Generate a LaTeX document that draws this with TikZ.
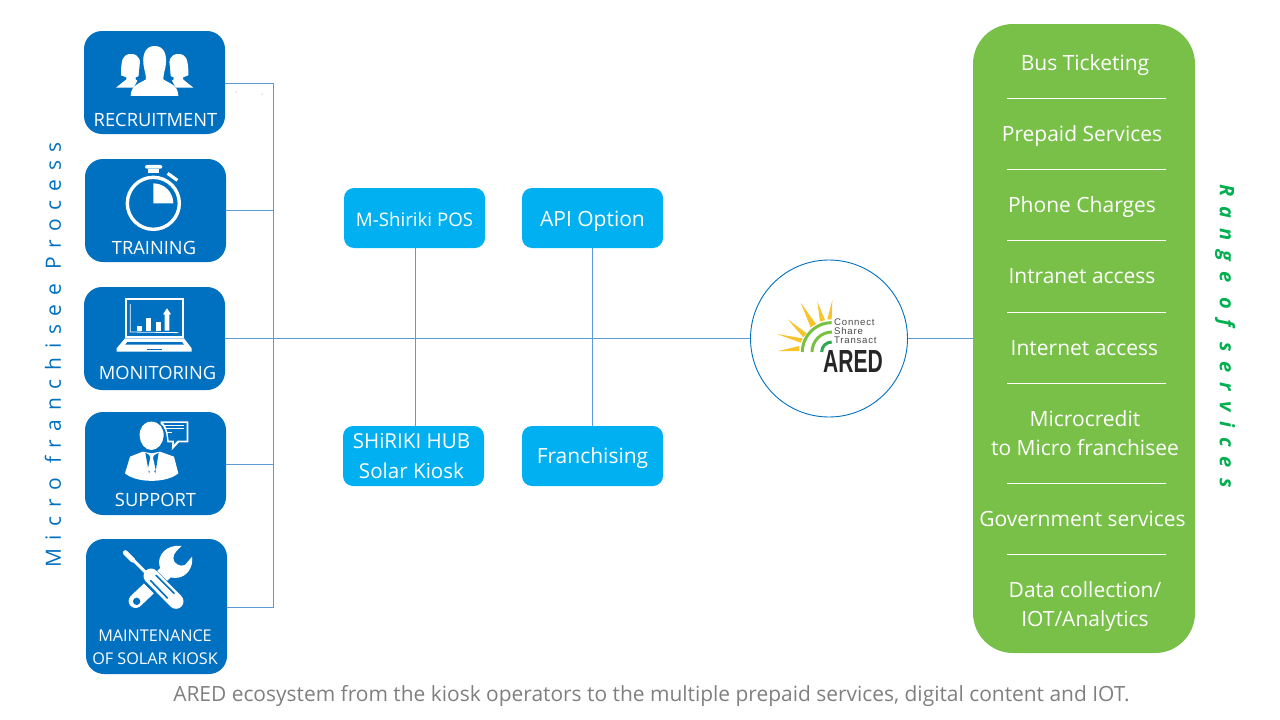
\documentclass[tikz,border=0pt]{standalone}
\usepackage{fontspec}
\setmainfont{Open Sans}
\newfontfamily\ospaced[LetterSpace=41.5]{Open Sans}
\newfontfamily\ospacedb[LetterSpace=50]{Open Sans}
\newfontfamily\logofont{Liberation Sans}
\newfontfamily\logospaced[LetterSpace=8]{Liberation Sans}
\definecolor{boxblue}{HTML}{0070C0}
\definecolor{cyanbox}{HTML}{00B0F0}
\definecolor{linkblue}{HTML}{5B9BD5}
\definecolor{panelgreen}{HTML}{78C048}
\definecolor{rangegreen}{HTML}{00B050}
\definecolor{captiongrey}{HTML}{7F7F7F}
\definecolor{sunyellow}{HTML}{F7C42B}
\definecolor{arcgreen}{HTML}{7AC143}
\definecolor{arcdark}{HTML}{2FA84F}
\definecolor{logogrey}{HTML}{4A4A4A}
\tikzset{
  procbox/.style={draw=none,fill=boxblue,rounded corners=18,minimum width=141,minimum height=103,inner sep=0},
  offerbox/.style={draw=none,fill=cyanbox,rounded corners=10,minimum width=141,minimum height=60,inner sep=0,text=white,font=\fontsize{21}{30}\selectfont,align=center,text height=17,text depth=2},
  proclabel/.style={text=white,font=\fontsize{18.3}{23}\selectfont,align=center,inner sep=0,text height=14,text depth=1},
  link/.style={draw=linkblue,line width=0.9pt},
  sep/.style={draw=white,line width=0.9pt},
  service/.style={text=white,font=\fontsize{21}{29}\selectfont,align=center,inner sep=0,text height=17,text depth=2},
  icon/.style={fill=white,draw=none},
  zoomed/.style={x=0.33333pt,y=-0.33333pt},
}
\begin{document}
\begin{tikzpicture}[x=1pt,y=-1pt]
\useasboundingbox (0,0) rectangle (1280,720);
% process boxes
\node[procbox] (rec) at (154.5,82.5) {};
\node[procbox] (tra) at (155.5,210.5) {};
\node[procbox] (mon) at (154.5,338.5) {};
\node[procbox] (sup) at (155.5,463.5) {};
\node[procbox,minimum height=135] (mai) at (156.5,606.5) {};
\node[proclabel] (lrec) at (155.5,119.5) {RECRUITMENT};
\node[proclabel] (ltra) at (154,247.5) {TRAINING};
\node[proclabel] (lmon) at (157.5,372.5) {MONITORING};
\node[proclabel] (lsup) at (155.5,499.5) {SUPPORT};
\node[proclabel,font=\fontsize{16.2}{23}\selectfont,text height=37] (lmai) at (155,646.5) {MAINTENANCE\\OF SOLAR KIOSK};
% centre boxes
\node[offerbox,font=\fontsize{18.7}{24}\selectfont,text height=19] (msh) at (414.5,218) {M-Shiriki POS};
\node[offerbox,text height=19] (api) at (592.5,218) {API Option};
\node[offerbox,font=\fontsize{20.6}{30}\selectfont,text height=47] (hub) at (413.5,456) {\hspace*{-4pt}SHiRIKI HUB\\\hspace*{-4pt}Solar Kiosk};
\node[offerbox] (fra) at (592.5,456) {Franchising};
% ARED circle and panel
\node[circle,draw=boxblue,line width=0.9pt,fill=white,minimum size=157,inner sep=0] (ared) at (829,338.5) {};
\node[draw=none,fill=panelgreen,rounded corners=40,minimum width=222,minimum height=629,inner sep=0] (panel) at (1084,338.5) {};
% connectors
\coordinate (trunk) at (273,338.5);
\draw[link] ([yshift=-.5pt]rec.east) -- ([yshift=-.5pt]rec.east -| trunk) -- ([yshift=-.5pt]mai.east -| trunk) -- ([yshift=-.5pt]mai.east);
\draw[link] (tra.east) -- (tra.east -| trunk);
\draw[link] ([yshift=-.5pt]sup.east) -- ([yshift=-.5pt]sup.east -| trunk);
\draw[link] (mon.east) -- (ared.west);
\draw[link] (ared.east) -- (panel.west);
\coordinate (mshx) at (415,248);
\draw[link] (mshx) -- (mshx |- hub.north);
\draw[link] (api.south) -- (fra.north);
\fill[gray] (236,92) circle (0.5);
\fill[gray] (262,94) circle (0.5);
% services
\node[service] (s1) at (1085,62.5) {Bus Ticketing};
\node[service] (s2) at (1082,133.5) {Prepaid Services};
\node[service] (s3) at (1082,204.5) {Phone Charges};
\node[service] (s4) at (1082,275.5) {Intranet access};
\node[service] (s5) at (1084.5,347.5) {Internet access};
\node[service,text height=46] (s6) at (1085,433) {Microcredit\\to Micro franchisee};
\node[service] (s7) at (1082.5,518.5) {Government services};
\node[service,text height=46] (s8) at (1085,604) {Data collection/\\IOT/Analytics};
\foreach \yy in {98,169,240,312,383,483,554}{\draw[sep] (1007,\yy) -- (1166,\yy);}
% side titles and caption
\node[rotate=90,text=boxblue,inner sep=0,font=\ospaced\fontsize{21}{24}\selectfont] (left) at (53,355) {Micro franchisee Process};
\node[rotate=-90,text=rangegreen,inner sep=0,font=\ospacedb\fontsize{20}{22}\selectfont\bfseries\itshape] (right) at (1225,336) {Range of services};
\node[text=captiongrey,inner sep=0,font=\fontsize{20.93}{24}\selectfont] (cap) at (651.5,696) {ARED ecosystem from the kiosk operators to the multiple prepaid services, digital content and IOT.};
% recruitment icon
\begin{scope}[shift={(70,20)},zoomed]
  \foreach \cx in {183,325}{
    \fill[icon] (\cx-30,150) .. controls (\cx-28,120) and (\cx-25,102) .. (\cx,102) .. controls (\cx+25,102) and (\cx+28,120) .. (\cx+30,150) -- (\cx+30,166) -- (\cx+14,172) -- (\cx+14,178) -- (\cx+45,203) -- (\cx-45,203) -- (\cx-14,178) -- (\cx-14,172) -- (\cx-30,166) -- cycle;
  }
  \fill[boxblue] (175,232) -- (205,178) -- (215,70) -- (293,70) -- (303,178) -- (333,232) -- cycle;
  \fill[icon] (254,78) .. controls (225,78) and (218,105) .. (220,130) .. controls (222,150) and (228,160) .. (228,178) .. controls (210,190) and (182,195) .. (182,228) -- (325,228) .. controls (325,195) and (298,190) .. (280,178) .. controls (280,160) and (286,150) .. (288,130) .. controls (290,105) and (283,78) .. (254,78) -- cycle;
\end{scope}
% stopwatch icon
\begin{scope}[shift={(70,20)},zoomed]
  \draw[white,line width=3.4pt] (250,550) circle (78);
  \fill[icon] (250,490) -- (250,550) -- (310,550) arc (0:-90:60) -- cycle;
  \fill[icon,rounded corners=2] (225,435) rectangle (277,446);
  \fill[icon] (235,446) rectangle (267,458);
  \draw[white,line width=3.2pt] (293,460) -- (322,481);
\end{scope}
% laptop icon
\begin{scope}[shift={(70,280)},zoomed]
  \draw[white,line width=1.8pt] (169,58) rectangle (338,170);
  \draw[white,line width=0.8pt] (181,72) -- (181,156) -- (326,158);
  \fill[icon] (202,137) rectangle (216,152);
  \fill[icon] (229,115) rectangle (244,152);
  \fill[icon] (257,126) rectangle (272,152);
  \fill[icon] (284,152) -- (284,103) -- (279,103) -- (291,85) -- (303,103) -- (298,103) -- (298,152) -- cycle;
  \fill[icon] (165,175) -- (342,175) -- (365,205) -- (365,215) -- (140,215) -- (140,205) -- cycle;
  \fill[boxblue] (172,186) -- (336,186) -- (342,194) -- (166,194) -- cycle;
  \fill[boxblue] (232,206) rectangle (275,210);
\end{scope}
% support icon
\begin{scope}[shift={(70,280)},zoomed]
  \fill[icon] (244,425) .. controls (220,425) and (208,445) .. (209,468) .. controls (210,490) and (225,510) .. (244,510) .. controls (263,510) and (280,490) .. (281,468) .. controls (282,445) and (268,425) .. (244,425) -- cycle;
  \fill[icon] (218,515) -- (180,530) -- (165,580) .. controls (200,610) and (290,610) .. (325,580) -- (312,530) -- (270,515) -- (245,520) -- cycle;
  \fill[boxblue] (226,518) -- (237,580) -- (246,560) -- (256,580) -- (266,518) -- (246,530) -- cycle;
  \fill[icon] (236,520) -- (254,520) -- (249,533) -- (257,570) -- (245,578) -- (233,570) -- (241,533) -- cycle;
  \fill[icon] (272,424) -- (355,424) -- (355,487) -- (327,487) -- (305,511) -- (307,487) -- (292,487) .. controls (290,460) and (285,440) .. (272,431) -- cycle;
  \fill[boxblue] (280,429) -- (350,429) -- (350,482) -- (322,482) -- (311,494) -- (313,482) -- (296,482) .. controls (294,460) and (290,440) .. (280,429) -- cycle;
  \draw[white,line width=0.9pt] (283,436) -- (343,436);
  \draw[white,line width=0.9pt] (286,446) -- (343,446);
  \draw[white,line width=0.9pt] (290,458) -- (306,458);
\end{scope}
% tools icon
\begin{scope}[shift={(70,530)},zoomed]
  % wrench
  \draw[white,line width=14pt,line cap=round] (295,120) -- (197,213);
  \fill[icon] (335,48) .. controls (290,42) and (262,75) .. (268,105) .. controls (275,140) and (310,150) .. (335,140) .. controls (358,130) and (370,105) .. (366,80) -- (345,105) .. controls (330,112) and (310,100) .. (310,85) .. controls (310,70) and (322,60) .. cycle;
  \fill[boxblue] (200,214) circle (11);
  % screwdriver
  \draw[boxblue,line width=18pt] (240,140) -- (318,218);
  \draw[white,line width=3pt] (172,72) -- (240,140);
  \draw[white,line width=5pt,line cap=round] (166,68) -- (188,90);
  \draw[white,line width=15pt,line cap=round] (243,138) -- (318,214);
  \draw[boxblue,line width=1.6pt,line cap=round] (242,152) -- (292,204);
  \draw[boxblue,line width=1.6pt,line cap=round] (258,136) -- (312,190);
\end{scope}
% ARED logo
\begin{scope}[shift={(740,250)},zoomed]
  \fill[sunyellow] (182,158) -- (228,222) -- (212,232) -- cycle;
  \fill[sunyellow] (232,155) -- (255,210) -- (240,215) -- cycle;
  \fill[sunyellow] (277,150) -- (275,208) -- (262,208) -- cycle;
  \fill[sunyellow] (143,208) -- (200,250) -- (190,262) -- cycle;
  \fill[sunyellow] (110,252) -- (188,265) -- (182,278) -- cycle;
  \fill[sunyellow] (115,303) -- (178,288) -- (178,303) -- cycle;
  \draw[arcgreen,line width=3pt] (187,306) arc (180:270:88);
  \draw[arcgreen,line width=3pt] (216,306) arc (180:270:60);
  \draw[arcdark,line width=3pt] (245,306) arc (180:270:30);
\end{scope}
\node[anchor=base west,inner sep=0,text=logogrey,font=\logospaced\fontsize{9.6}{10}\selectfont] (lg1) at (834,325.5) {Connect};
\node[anchor=base west,inner sep=0,text=logogrey,font=\logospaced\fontsize{9.6}{10}\selectfont] (lg2) at (834,334.5) {Share};
\node[anchor=base west,inner sep=0,text=logogrey,font=\logospaced\fontsize{9.6}{10}\selectfont] (lg3) at (834,343.5) {Transact};
\node[anchor=base west,inner sep=0,text=black!85,xscale=0.66,font=\logofont\fontsize{32}{32}\selectfont\bfseries] (lg4) at (823,372) {ARED};
\end{tikzpicture}
\end{document}
